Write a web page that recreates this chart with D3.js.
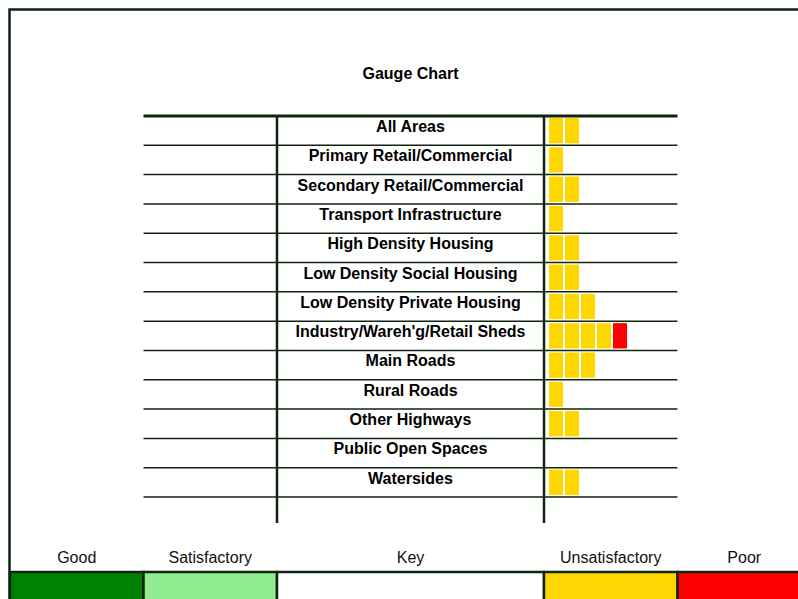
<!DOCTYPE html>
<html>
<head>
<meta charset="utf-8">
<script src="https://cdn.jsdelivr.net/npm/d3@7"></script>
<style>
  html, body { margin: 0; padding: 0; background: #fff; }
  svg { display: block; font-family: "Liberation Sans", Arial, sans-serif; }
</style>
</head>
<body>
<div id="chart"></div>
<script>
// Data
const categories = [
  'All Areas', 'Primary Retail/Commercial', 'Secondary Retail/Commercial',
  'Transport Infrastructure', 'High Density Housing', 'Low Density Social Housing',
  'Low Density Private Housing', "Industry/Wareh'g/Retail Sheds", 'Main Roads',
  'Rural Roads', 'Other Highways', 'Public Open Spaces', 'Watersides'
];
const gaugeValues = [2, 1, 2, 1, 2, 2, 3, 5, 3, 1, 2, 0, 2];
const poorFrom = 4; // blocks after the 4th show as poor

const keyLabels = ['Good', 'Satisfactory', 'Key', 'Unsatisfactory', 'Poor'];
const keyColors = ['#008000', '#90ee90', '#ffffff', '#ffd700', '#ff0000'];
const keySpans = [1, 1, 2, 1, 1]; // column units

(function main(){
  const width = 798, height = 599;
  const ink = '#0d260d';

  const svg = d3.select('#chart').append('svg')
    .attr('width', width).attr('height', height);

  // columns: 6 units across the page
  const col = d3.scaleLinear().domain([0, 6]).range([10, 811]);
  const rowY = d3.scaleBand().domain(categories).range([116, 497]);
  const gx = d3.scaleLinear().domain([0, 8]).range([548, 676]);

  // outer frame
  svg.append('path')
    .attr('d', `M9.5,${height + 5} V9.5 H${width + 5}`)
    .attr('fill', 'none').attr('stroke', ink).attr('stroke-width', 2.5);

  svg.append('text')
    .attr('x', col(3)).attr('y', 79)
    .attr('text-anchor', 'middle')
    .style('font-size', '16px').style('font-weight', 'bold')
    .text('Gauge Chart');

  const table = svg.append('g');

  // row lines
  const bounds = categories.map(c => rowY(c)).concat([rowY.range()[1]]);
  table.selectAll('line.row')
    .data(bounds)
    .join('line')
    .attr('class', 'row')
    .attr('x1', col(1)).attr('x2', col(5))
    .attr('y1', d => d).attr('y2', d => d)
    .attr('stroke', ink)
    .attr('stroke-width', (d, i) => i === 0 ? 3 : 1.5);

  // column separators
  table.selectAll('line.col')
    .data([2, 4])
    .join('line')
    .attr('class', 'col')
    .attr('x1', d => col(d)).attr('x2', d => col(d))
    .attr('y1', 115).attr('y2', 523)
    .attr('stroke', ink).attr('stroke-width', 2.5);

  // category labels
  table.selectAll('text.cat')
    .data(categories)
    .join('text')
    .attr('class', 'cat')
    .attr('x', col(3)).attr('y', d => rowY(d) + 16)
    .attr('text-anchor', 'middle')
    .style('font-size', '16px').style('font-weight', 'bold')
    .text(d => d);

  // gauge blocks
  const blocks = categories.flatMap((c, i) =>
    d3.range(gaugeValues[i]).map(k => ({ cat: c, k })));
  table.selectAll('rect.blk')
    .data(blocks)
    .join('rect')
    .attr('class', 'blk')
    .attr('x', d => gx(d.k) + 1)
    .attr('y', d => rowY(d.cat) + 2)
    .attr('width', gx(1) - gx(0) - 2)
    .attr('height', rowY.bandwidth() - 4)
    .attr('fill', d => d.k >= poorFrom ? '#ff0000' : '#ffd700');

  // key row
  const starts = keySpans.map((s, i) => d3.sum(keySpans.slice(0, i)));
  const key = svg.append('g');
  key.selectAll('rect')
    .data(keyLabels)
    .join('rect')
    .attr('x', (d, i) => col(starts[i]))
    .attr('y', 572)
    .attr('width', (d, i) => col(starts[i] + keySpans[i]) - col(starts[i]))
    .attr('height', 40)
    .attr('fill', (d, i) => keyColors[i])
    .attr('stroke', ink).attr('stroke-width', 2.5);
  key.selectAll('text')
    .data(keyLabels)
    .join('text')
    .attr('x', (d, i) => col(starts[i] + keySpans[i] / 2))
    .attr('y', 563)
    .attr('text-anchor', 'middle')
    .style('font-size', '16px')
    .attr('fill', '#111')
    .text(d => d);
})();
</script>
</body>
</html>
